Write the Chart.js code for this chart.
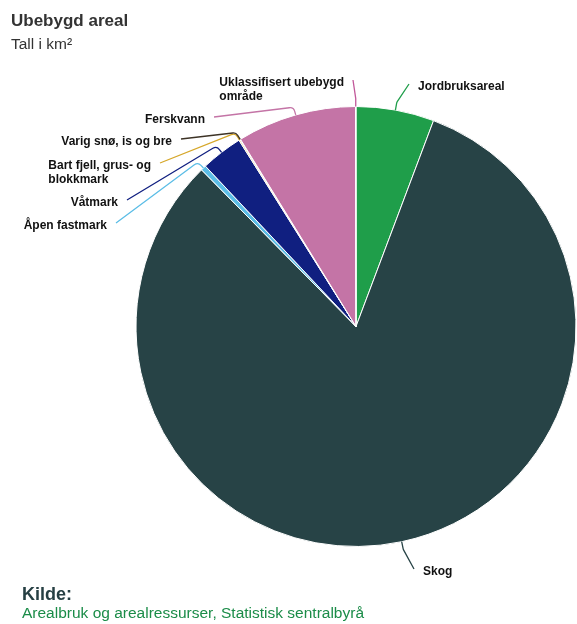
<!DOCTYPE html>
<html>
<head>
<meta charset="utf-8">
<script src="https://cdn.jsdelivr.net/npm/chart.js@4"></script>
<style>
  body { margin: 0; background: #fff; font-family: "Liberation Sans", Arial, sans-serif; }
  .wrap { position: relative; width: 577px; height: 624px; overflow: hidden; }
  #pie { position: absolute; left: 0; top: 0; }
  .title { position: absolute; left: 11px; top: 11px; font-size: 17px; font-weight: bold; color: #333; }
  .subtitle { position: absolute; left: 11px; top: 35px; font-size: 15.5px; color: #333; }
  .kilde { position: absolute; left: 22px; top: 584px; font-size: 18px; font-weight: bold; color: #263f43; }
  .source { position: absolute; left: 22px; top: 604px; font-size: 15.5px; color: #1b8c48; }
</style>
</head>
<body>
<div class="wrap">
  <canvas id="pie" width="577" height="585"></canvas>
  <div class="title">Ubebygd areal</div>
  <div class="subtitle">Tall i km²</div>
  <div class="kilde">Kilde:</div>
  <div class="source">Arealbruk og arealressurser, Statistisk sentralbyrå</div>
</div>
<script>
const categories = ['Jordbruksareal', 'Skog', 'Åpen fastmark', 'Våtmark', 'Bart fjell, grus- og blokkmark', 'Varig snø, is og bre', 'Ferskvann', 'Uklassifisert ubebygd område'];
const areaKm2 = [12.5, 178.5, 0.85, 6.7, 0.18, 0.1, 19.1, 0.08];
const sliceColors = ['#1f9e4a', '#274346', '#5bbde6', '#101f80', '#d6a72a', '#3d3326', '#c474a6', '#c2589a'];

// where each data label block sits (line breaks + right/left edge)
const labelLayout = [
    { lines: ['Jordbruksareal'], left: 418, y: 87 },
    { lines: ['Skog'], left: 423, y: 572 },
    { lines: ['Åpen fastmark'], right: 107, y: 226 },
    { lines: ['Våtmark'], right: 118, y: 203 },
    { lines: ['Bart fjell, grus- og', 'blokkmark'], right: 151, y: 166 },
    { lines: ['Varig snø, is og bre'], right: 172, y: 142 },
    { lines: ['Ferskvann'], right: 205, y: 120 },
    { lines: ['Uklassifisert ubebygd', 'område'], right: 344, y: 83 }
];

const pieLabels = {
    id: 'pieLabels',
    afterDatasetsDraw(chart) {
        const ctx = chart.ctx;
        const meta = chart.getDatasetMeta(0);
        ctx.save();
        ctx.font = 'bold 12px "Liberation Sans", Arial, sans-serif';
        ctx.textBaseline = 'middle';
        ctx.textAlign = 'left';
        meta.data.forEach((arc, i) => {
            const p = arc.getProps(['x', 'y', 'startAngle', 'endAngle', 'outerRadius'], true);
            const mid = (p.startAngle + p.endAngle) / 2;
            const dx = Math.cos(mid), dy = Math.sin(mid);
            const ax = p.x + dx * p.outerRadius, ay = p.y + dy * p.outerRadius;
            const bx = ax + dx * 8, by = ay + dy * 8;

            const lay = labelLayout[i];
            const w = Math.max(...lay.lines.map(t => ctx.measureText(t).width));
            let left, lx;
            if (lay.right !== undefined) {
                left = lay.right - w;
                lx = lay.right + 9;
            } else {
                left = lay.left;
                lx = lay.left - 9;
            }
            const ly = lay.y - 3;

            ctx.strokeStyle = sliceColors[i];
            ctx.lineWidth = 1.3;
            ctx.beginPath();
            ctx.moveTo(lx, ly);
            ctx.arcTo(bx, by, ax, ay, 5);
            ctx.lineTo(ax, ay);
            ctx.stroke();

            ctx.fillStyle = '#111';
            lay.lines.forEach((t, k) => ctx.fillText(t, left, lay.y + k * 14));
        });
        ctx.restore();
    }
};

new Chart(document.getElementById('pie'), {
    type: 'pie',
    data: {
        labels: categories,
        datasets: [{
            data: areaKm2,
            backgroundColor: sliceColors,
            borderColor: '#ffffff',
            borderWidth: 1
        }]
    },
    options: {
        responsive: false,
        animation: false,
        layout: {
            padding: { left: 135, right: 0, top: 106, bottom: 38 }
        },
        plugins: {
            legend: { display: false },
            tooltip: { enabled: false }
        }
    },
    plugins: [pieLabels]
});
</script>
</body>
</html>
